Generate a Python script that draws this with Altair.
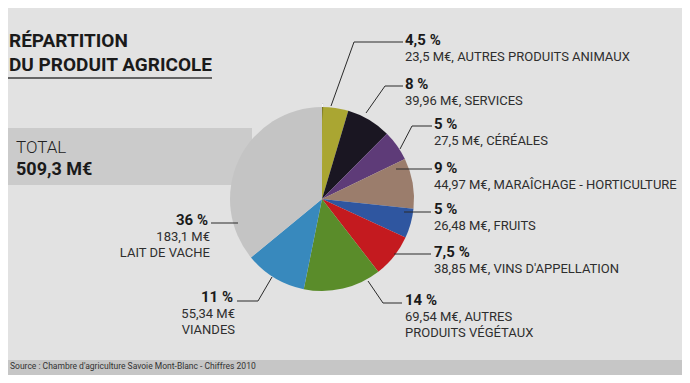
import altair as alt
import pandas as pd

# ---------------- data ----------------
categories = ["AUTRES PRODUITS ANIMAUX", "SERVICES", "CÉRÉALES",
              "MARAÎCHAGE - HORTICULTURE", "FRUITS", "VINS D'APPELLATION",
              "AUTRES PRODUITS VÉGÉTAUX", "VIANDES", "LAIT DE VACHE"]
values = [23.5, 39.96, 27.5, 44.97, 26.48, 38.85, 69.54, 55.34, 183.1]
pct_labels = ["4,5 %", "8 %", "5 %", "9 %", "5 %", "7,5 %", "14 %", "11 %", "36 %"]
detail_lines = [
    ["23,5 M€, AUTRES PRODUITS ANIMAUX"],
    ["39,96 M€, SERVICES"],
    ["27,5 M€, CÉRÉALES"],
    ["44,97 M€, MARAÎCHAGE - HORTICULTURE"],
    ["26,48 M€, FRUITS"],
    ["38,85 M€, VINS D'APPELLATION"],
    ["69,54 M€, AUTRES", "PRODUITS VÉGÉTAUX"],
    ["55,34 M€", "VIANDES"],
    ["183,1 M€", "LAIT DE VACHE"],
]
colors = ["#aaa632", "#1a1622", "#5e3b78", "#9b7d6c", "#2f56a0",
          "#c41a1f", "#5a8c2a", "#3889bd", "#c4c4c4"]

title_lines = ["RÉPARTITION", "DU PRODUIT AGRICOLE"]
total_label = "TOTAL"
total_value = "509,3 M€"
source_text = "Source : Chambre d'agriculture Savoie Mont-Blanc - Chiffres 2010"

# ---------------- layout (page pixel units) ----------------
label_x = [405, 405, 434, 434, 434, 434, 405, 233, 208]
label_y = [45, 89, 129, 173, 214, 257, 305, 302, 225]
label_align = ["left"] * 7 + ["right", "right"]
leaders = [
    [(331, 106), (354, 42), (403, 42)],
    [(366, 113), (385, 86), (403, 86)],
    [(400, 149), (412, 126), (432, 126)],
    [(396, 169), (432, 169)],
    [(404, 212), (431, 212)],
    [(394, 254), (431, 254)],
    [(368, 281), (383, 303), (402, 303)],
    [(272, 277), (258, 301), (237, 301)],
    [(238, 223), (211, 223)],
]
CX, CY, R = 322, 199, 92

FONT = "Roboto, Liberation Sans, sans-serif"

xs = alt.Scale(domain=[8, 682], range=[0, 674])
ys = alt.Scale(domain=[8, 375], range=[0, 367])


def X(f):
    return alt.X(f, type="quantitative", scale=xs, axis=None)


def Y(f):
    return alt.Y(f, type="quantitative", scale=ys, axis=None)


pie_df = pd.DataFrame({"cat": categories, "value": values, "idx": range(len(values))})

bold_rows, reg_rows = [], []
for i in range(len(categories)):
    bold_rows.append({"x": label_x[i], "y": label_y[i], "t": pct_labels[i], "a": label_align[i]})
    for j, line in enumerate(detail_lines[i]):
        reg_rows.append({"x": label_x[i] + (2 if label_align[i] == "right" else 0),
                         "y": label_y[i] + 16 * (j + 1), "t": line, "a": label_align[i]})
bold_df = pd.DataFrame(bold_rows)
reg_df = pd.DataFrame(reg_rows)

lead_rows = []
for i, pts in enumerate(leaders):
    for k, (px, py) in enumerate(pts):
        lead_rows.append({"cat": categories[i], "k": k, "x": px, "y": py})
lead_df = pd.DataFrame(lead_rows)

# background panels
panels = pd.DataFrame([
    {"x": 8, "x2": 252, "y": 128, "y2": 185, "c": "#cbcbcb"},
    {"x": 8, "x2": 700, "y": 360, "y2": 400, "c": "#c6c6c6"},
])
panel_layer = alt.Chart(panels).mark_rect().encode(
    x=X("x"), x2="x2", y=Y("y"), y2="y2",
    color=alt.Color("c:N", scale=None))

# title
title_df = pd.DataFrame({"x": [9, 9], "y": [47, 71], "t": title_lines})
title_layer = alt.Chart(title_df).mark_text(
    font=FONT, fontSize=19, fontWeight="bold", align="left", baseline="alphabetic",
    color="#1a1a1a").encode(x=X("x"), y=Y("y"), text="t:N")
underline = alt.Chart(pd.DataFrame({"x": [8], "x2": [212], "y": [78]})).mark_rule(
    color="#3a3a3a", strokeWidth=1.5).encode(x=X("x"), x2="x2", y=Y("y"))

total_layer = alt.Chart(pd.DataFrame({"x": [16], "y": [153], "t": [total_label]})).mark_text(
    font=FONT, fontSize=17, fontWeight=300, align="left", baseline="alphabetic", color="#222"
).encode(x=X("x"), y=Y("y"), text="t:N")
total_val_layer = alt.Chart(pd.DataFrame({"x": [16], "y": [175], "t": [total_value]})).mark_text(
    font=FONT, fontSize=18, fontWeight="bold", align="left", baseline="alphabetic", color="#1a1a1a"
).encode(x=X("x"), y=Y("y"), text="t:N")

source_layer = alt.Chart(pd.DataFrame({"x": [10], "y": [369], "t": [source_text]})).mark_text(
    font=FONT, fontSize=8.5, align="left", baseline="alphabetic", color="#333"
).encode(x=X("x"), y=Y("y"), text="t:N")

# pie
one = pd.DataFrame({"v": [1]})
shadow = alt.Chart(one).mark_arc(outerRadius=R + 4.5, fill="#a8a8a8", opacity=0.6).encode(
    theta="v:Q", x=alt.value(CX - 8), y=alt.value(CY - 8 + 1))
ring = alt.Chart(one).mark_arc(outerRadius=R + 3, fill="#f4f4f4").encode(
    theta="v:Q", x=alt.value(CX - 8), y=alt.value(CY - 8))
pie = alt.Chart(pie_df).mark_arc(outerRadius=R).encode(
    theta=alt.Theta("value:Q", stack=True),
    color=alt.Color("cat:N", scale=alt.Scale(domain=categories, range=colors), legend=None),
    order=alt.Order("idx:Q"),
    x=alt.value(CX - 8), y=alt.value(CY - 8))
shade = alt.Chart(one).mark_arc(
    outerRadius=R,
    fill=alt.RadialGradient(
        gradient="radial", x1=0.5, y1=0.5, r1=0, x2=0.5, y2=0.5, r2=0.5,
        stops=[alt.GradientStop(offset=0, color="rgba(255,255,255,0.08)"),
               alt.GradientStop(offset=0.7, color="rgba(0,0,0,0.03)"),
               alt.GradientStop(offset=1, color="rgba(0,0,0,0.3)")])
).encode(theta="v:Q", x=alt.value(CX - 8), y=alt.value(CY - 8))

lead_layer = alt.Chart(lead_df).mark_line(color="#2a2a2a", strokeWidth=1).encode(
    x=X("x"), y=Y("y"), detail="cat:N", order="k:Q")


def text_layers(df, size, weight, color):
    out = []
    for a in ["left", "right"]:
        out.append(alt.Chart(df).transform_filter(alt.datum.a == a).mark_text(
            font=FONT, fontSize=size, fontWeight=weight, align=a, baseline="alphabetic",
            color=color).encode(x=X("x"), y=Y("y"), text="t:N"))
    return out


layers = [panel_layer, title_layer, underline, total_layer, total_val_layer, source_layer,
          shadow, ring, pie, shade, lead_layer]
layers += text_layers(bold_df, 15, "bold", "#1a1a1a")
layers += text_layers(reg_df, 13, "normal", "#2e2e2e")

chart = alt.layer(*layers).properties(
    width=674, height=367, padding=0, autosize=alt.AutoSizeParams(type="none"),
    background="#e2e2e2"
).configure_view(stroke=None)

chart.save("out.html", embed_options={"renderer": "svg", "actions": False})
